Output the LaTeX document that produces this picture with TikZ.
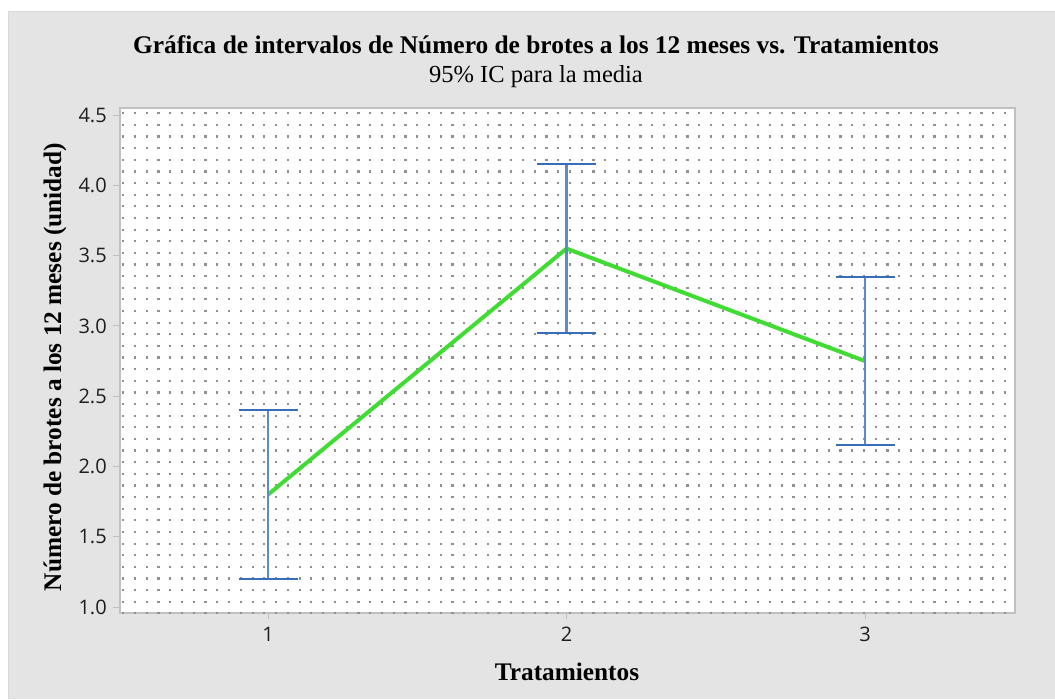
\documentclass[tikz,border=0pt]{standalone}
\usepackage{fontspec}
\setmainfont{Liberation Serif}
\newfontfamily\tickfont{Open Sans}
\usetikzlibrary{positioning}

\definecolor{panelgray}{RGB}{228,228,228}
\definecolor{framegray}{RGB}{192,192,192}
\definecolor{dotgray}{RGB}{145,145,145}
\definecolor{ciblue}{RGB}{90,140,205}
\definecolor{capblue}{RGB}{55,110,185}
\definecolor{meangreen}{RGB}{64,220,52}
\definecolor{ticktext}{RGB}{30,30,30}

\begin{document}
\begin{tikzpicture}[x=1pt,y=-1pt,
        title node/.style={font=\fontsize{25.4}{30}\selectfont\bfseries,inner sep=0pt,anchor=base},
        subtitle node/.style={font=\fontsize{24.5}{29}\selectfont,inner sep=0pt,anchor=base},
        axis title/.style={font=\fontsize{25.3}{30}\selectfont\bfseries,inner sep=0pt},
        tick mark/.style={draw=framegray,line width=1pt},
        ytick label/.style={font=\tickfont\fontsize{20}{24}\selectfont,text=ticktext,anchor=east,inner sep=0pt,xshift=-5.5pt},
        xtick label/.style={font=\tickfont\fontsize{20}{24}\selectfont,text=ticktext,anchor=north,inner sep=0pt,yshift=-8pt},
        ci bar/.style={draw=ciblue,line width=2.6pt},
        ci end/.style={draw=capblue,line width=2pt},
        mean line/.style={draw=meangreen,line width=4pt,line join=round}]

    \useasboundingbox (0,0) rectangle (1055,699);
    \fill[white] (0,0) rectangle (1055,699);
    \fill[panelgray] (8,11) rectangle (1055,699);
    \draw[framegray!60,line width=1pt] (8,699) -- (8,11) -- (1055,11);

    \fill[white] (120,108) rectangle (1015,613);
    \draw[framegray,line width=1.5pt] (120,108) rectangle (1015,613);
    \foreach \i in {0,...,75}
        \foreach \j in {0,...,43}
            \fill[dotgray] ({122.2+11.756*\i},{112.2+11.63*\j}) rectangle ++(2.2,2.2);

    \begin{scope}[shift={(-30.5pt,-747.7pt)},x=298.5pt,y=140.6pt]
        \foreach \v [count=\k] in {1.0,1.5,2.0,2.5,3.0,3.5,4.0,4.5}
            \draw[tick mark] (0.5,\v) -- ++(-6pt,0pt) node[ytick label] (ytick\k) {\v};
        \foreach \t in {1,2,3}
            \draw[tick mark] (\t,0.958) -- ++(0pt,-6pt) node[xtick label] (xtick\t) {\t};

        \foreach \t/\m in {1/1.8,2/3.55,3/2.75} {
            \coordinate (m\t) at (\t,\m);
            \coordinate (lo\t) at (\t,\m-0.6);
            \coordinate (hi\t) at (\t,\m+0.6);
        }
        \draw[mean line] (m1) -- (m2) -- (m3);
        \foreach \t in {1,2,3} {
            \draw[ci bar] (lo\t) -- (hi\t);
            \draw[ci end] ([xshift=-29.5pt]lo\t) -- ([xshift=29.5pt]lo\t);
            \draw[ci end] ([xshift=-29.5pt]hi\t) -- ([xshift=29.5pt]hi\t);
        }
    \end{scope}

    \node[title node] (title) at (536,53.5) {Gráfica de intervalos de Número de brotes a los 12 meses vs. Tratamientos};
    \node[subtitle node] (subtitle) at (536,82) {95\% IC para la media};
    \node[axis title] (xlabel) at (567,672) {Tratamientos};
    \node[axis title,rotate=90] (ylabel) at (55,367) {Número de brotes a los 12 meses (unidad)};
\end{tikzpicture}
\end{document}
